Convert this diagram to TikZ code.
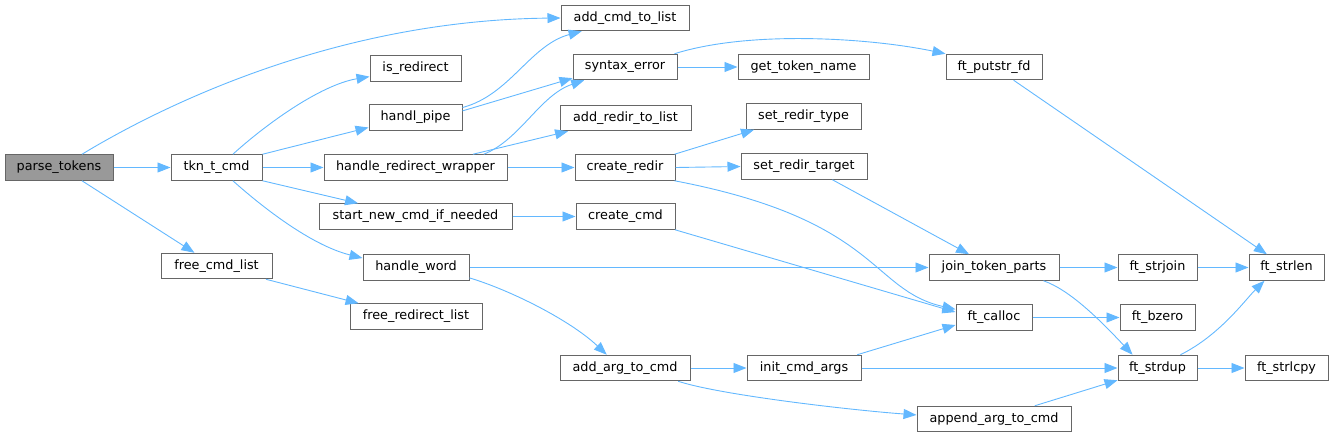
\documentclass[tikz,border=0pt]{standalone}
\usepackage{fontspec}
\setmainfont{DejaVu Sans}
\usepackage{tikz}
\usetikzlibrary{arrows.meta}

\definecolor{edgeblue}{HTML}{63B8FF}
\definecolor{boxline}{HTML}{666666}
\definecolor{rootfill}{HTML}{999999}

\tikzset{
  fn/.style={draw=boxline, line width=1pt, fill=white, inner sep=0pt,
    minimum height=25.5pt, font=\fontsize{12.8}{14}\selectfont},
  rootfn/.style={fn, fill=rootfill},
  callarrow/.style={draw=edgeblue, line width=0.9pt,
    -{Triangle[length=13pt,width=10pt]}, color=edgeblue}
}

\begin{document}
\begin{tikzpicture}[x=1pt, y=-1pt]
  \useasboundingbox (0,0) rectangle (1333,437);

  % Column 0 and 1
  \node[rootfn, minimum width=108pt] (parse)     at (59,167.5)    {parse\_tokens};
  \node[fn, minimum width=91pt]      (tkn)       at (216.5,167.5) {tkn\_t\_cmd};
  \node[fn, minimum width=111pt]     (freecmd)   at (216.5,266)   {free\_cmd\_list};

  % Column 2
  \node[fn, minimum width=91pt]  (isredir)   at (415.5,68.5)  {is\_redirect};
  \node[fn, minimum width=93pt]  (pipe)      at (415.5,117.5) {handl\_pipe};
  \node[fn, minimum width=183pt] (hrw)       at (415.5,167.5) {handle\_redirect\_wrapper};
  \node[fn, minimum width=193pt] (snc)       at (415.5,216.5) {start\_new\_cmd\_if\_needed};
  \node[fn, minimum width=106pt] (hw)        at (416,267.5)   {handle\_word};
  \node[fn, minimum width=132pt] (freeredir) at (416,316.5)   {free\_redirect\_list};

  % Column 3
  \node[fn, minimum width=128pt] (addcmd)   at (625,18)      {add\_cmd\_to\_list};
  \node[fn, minimum width=104pt] (synerr)   at (625,67)      {syntax\_error};
  \node[fn, minimum width=131pt] (addredir) at (625.5,118)   {add\_redir\_to\_list};
  \node[fn, minimum width=100pt] (cr)       at (625,167.5)   {create\_redir};
  \node[fn, minimum width=99pt]  (ccmd)     at (625.5,216.5) {create\_cmd};
  \node[fn, minimum width=130pt] (addarg)   at (625,368)     {add\_arg\_to\_cmd};

  % Column 4
  \node[fn, minimum width=131pt] (gtn)      at (803.5,67)    {get\_token\_name};
  \node[fn, minimum width=115pt] (srt)      at (803.5,116.5) {set\_redir\_type};
  \node[fn, minimum width=126pt] (srtarget) at (804,166.5)   {set\_redir\_target};
  \node[fn, minimum width=114pt] (initargs) at (804,368)     {init\_cmd\_args};

  % Column 5
  \node[fn, minimum width=96pt]  (putstr) at (994,67)    {ft\_putstr\_fd};
  \node[fn, minimum width=130pt] (jtp)    at (994,267.5) {join\_token\_parts};
  \node[fn, minimum width=76pt]  (calloc) at (994,317.5) {ft\_calloc};
  \node[fn, minimum width=154pt] (append) at (994,419)   {append\_arg\_to\_cmd};

  % Column 6 and 7
  \node[fn, minimum width=79pt] (strjoin) at (1157.5,267.5) {ft\_strjoin};
  \node[fn, minimum width=75pt] (bzero)   at (1157.5,317.5) {ft\_bzero};
  \node[fn, minimum width=79pt] (strdup)  at (1157.5,368)   {ft\_strdup};
  \node[fn, minimum width=75pt] (strlen)  at (1286.5,267.5) {ft\_strlen};
  \node[fn, minimum width=83pt] (strlcpy) at (1286.5,368)   {ft\_strlcpy};

  % Calls out of parse_tokens
  \draw[callarrow] (parse.30) .. controls (180,95) and (350,20) .. (addcmd.west);
  \draw[callarrow] (parse.east) -- (tkn.west);
  \draw[callarrow] (parse.330) -- (freecmd.149);

  % Calls out of tkn_t_cmd
  \draw[callarrow] (tkn.39) .. controls (265,125) and (320,85) .. (isredir.190);
  \draw[callarrow] (tkn.north east) -- (pipe.192);
  \draw[callarrow] (tkn.east) -- (hrw.west);
  \draw[callarrow] (tkn.south east) -- (snc.167);
  \draw[callarrow] (tkn.321) .. controls (260,205) and (310,245) .. (hw.170);
  \draw[callarrow] (freecmd.345) -- (freeredir.167);

  % Second level
  \draw[callarrow] (pipe.12) .. controls (510,95) and (530,45) .. (addcmd.197);
  \draw[callarrow] (pipe.8) -- (synerr.192);
  \draw[callarrow] (hrw.11) .. controls (520,140) and (540,95) .. (synerr.198);
  \draw[callarrow] (hrw.13) -- (addredir.193);
  \draw[callarrow] (hrw.east) -- (cr.west);
  \draw[callarrow] (snc.east) -- (ccmd.west);
  \draw[callarrow] (hw.east) -- (jtp.west);
  \draw[callarrow] (hw.349) .. controls (510,290) and (570,320) .. (addarg.144);

  % Third level
  \draw[callarrow] (synerr.east) -- (gtn.west);
  \draw[callarrow] (synerr.15) .. controls (750,30) and (870,38) .. (putstr.north west);
  \draw[callarrow] (cr.15) -- (srt.195);
  \draw[callarrow] (cr.east) -- (srtarget.west);
  \draw[callarrow] (cr.345) .. controls (880,220) and (870,290) .. (calloc.168);
  \draw[callarrow] (ccmd.345) -- (calloc.172);
  \draw[callarrow] (addarg.east) -- (initargs.west);
  \draw[callarrow] (addarg.346) .. controls (720,395) and (850,410) .. (append.177);

  % Fourth level
  \draw[callarrow] (srtarget.335) -- (jtp.152);
  \draw[callarrow] (initargs.14) -- (calloc.191);
  \draw[callarrow] (initargs.east) -- (strdup.west);
  \draw[callarrow] (putstr.326) -- (strlen.146);
  \draw[callarrow] (jtp.east) -- (strjoin.west);
  \draw[callarrow] (jtp.345) .. controls (1070,290) and (1100,320) .. (strdup.152);
  \draw[callarrow] (calloc.east) -- (bzero.west);
  \draw[callarrow] (append.18) -- (strdup.197);

  % Leaves
  \draw[callarrow] (strjoin.east) -- (strlen.west);
  \draw[callarrow] (strdup.30) .. controls (1220,335) and (1245,300) .. (strlen.211);
  \draw[callarrow] (strdup.east) -- (strlcpy.west);
\end{tikzpicture}
\end{document}
